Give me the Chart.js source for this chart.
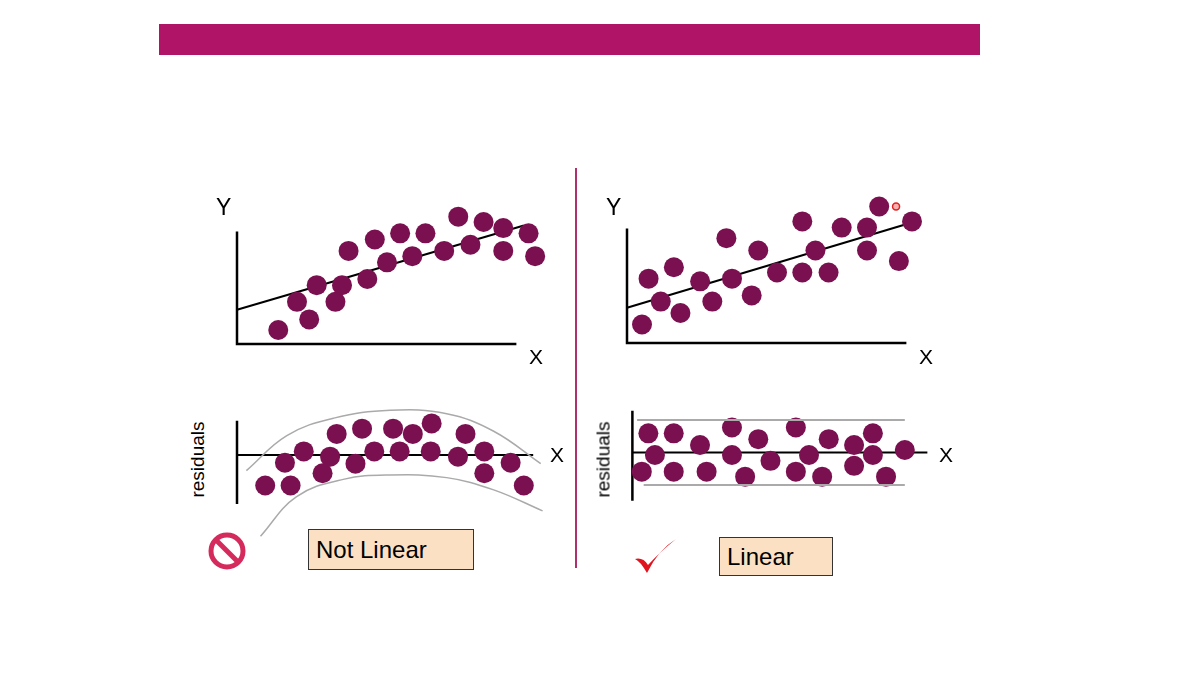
<!DOCTYPE html>
<html><head><meta charset="utf-8">
<script src="https://cdn.jsdelivr.net/npm/chart.js@4"></script>
<style>
body{margin:0;width:1200px;height:675px;background:#fff;position:relative;overflow:hidden;font-family:"Liberation Sans",Arial,sans-serif}
canvas{position:absolute}
.t{position:absolute;color:#000;line-height:1}
.box{position:absolute;background:#fbe0c4;border:1.5px solid #333;font-size:24px;box-sizing:border-box;padding-left:7px;display:flex;align-items:center}
</style></head><body>
<div style="position:absolute;left:159px;top:24px;width:821px;height:31px;background:#b01466"></div>
<div style="position:absolute;left:575px;top:168px;width:2px;height:400px;background:#b0306e"></div>
<canvas id="tl" width="320" height="164" style="left:227px;top:190px"></canvas>
<canvas id="tr" width="320" height="168" style="left:617px;top:185px"></canvas>
<canvas id="bl" width="335" height="160" style="left:227px;top:395px"></canvas>
<canvas id="br" width="330" height="120" style="left:613px;top:395px"></canvas>
<div class="t" style="left:216px;top:196px;font-size:23px">Y</div>
<div class="t" style="left:529px;top:346px;font-size:21px">X</div>
<div class="t" style="left:606px;top:196px;font-size:23px">Y</div>
<div class="t" style="left:919px;top:346px;font-size:21px">X</div>
<div class="t" style="left:550px;top:444px;font-size:21px">X</div>
<div class="t" style="left:939px;top:444px;font-size:21px">X</div>
<div class="t" style="left:157px;top:450px;width:80px;text-align:center;font-size:19px;transform:rotate(-90deg)">residuals</div>
<div class="t" style="left:563px;top:450px;width:80px;text-align:center;font-size:19px;transform:rotate(-90deg)">residuals</div>
<div class="box" style="left:308px;top:529px;width:166px;height:41px">Not Linear</div>
<div class="box" style="left:719px;top:537px;width:114px;height:39px">Linear</div>
<svg style="position:absolute;left:205px;top:530px" width="46" height="44"><circle cx="22" cy="21" r="16" fill="none" stroke="#d42a5c" stroke-width="5"/><line x1="12" y1="11" x2="32" y2="31" stroke="#d42a5c" stroke-width="5"/></svg>
<svg style="position:absolute;left:630px;top:535px" width="50" height="45"><path d="M5 24 Q10 26 17 38 Q28 15 46 4 Q30 17 18 30 Q13 22 5 24 Z" fill="#e0141e"/></svg>
<script>
// Top-left (not linear) scatter
const tlX=[4.4,7.7,6.4,8.5,10.5,11.2,13.9,11.9,14.7,17.4,20.1,16.0,18.7,22.1,24.9,23.6,26.3,28.4,31.1,28.4,31.8];
const tlY=[1.6,2.8,4.8,6.7,4.8,6.7,7.4,10.6,11.9,12.6,12.6,9.3,10.0,10.6,11.3,14.5,13.9,13.2,12.6,10.6,10.0];
const tlFit=[[0,3.9],[30.6,13.5]];
// Top-right (linear) scatter
const trX=[1.6,3.6,5.7,2.3,5.0,7.8,9.1,11.2,10.6,13.3,14.0,16.0,18.7,21.5,18.7,20.1,22.9,25.6,25.6,26.9,30.4,29.0];
const trY=[2.1,4.7,3.4,7.3,8.6,7.0,4.7,7.3,11.9,5.4,10.5,8.0,8.0,8.0,13.8,10.5,13.1,13.1,10.5,15.5,13.8,9.3];
const trFit=[[0,4.0],[29.5,13.4]];
// Bottom-left residuals
const blX=[3.0,5.7,5.1,7.1,9.1,9.9,10.6,12.6,13.3,14.6,16.6,17.3,18.7,20.7,20.6,23.5,24.3,26.3,26.3,29.1,30.5];
const blY=[-3.5,-3.5,-0.9,0.4,-2.1,-0.2,2.4,-1.0,3.0,0.4,3.0,0.4,2.4,3.6,0.4,-0.2,2.4,0.4,-2.1,-0.9,-3.5];
const blUpper=[[1.0,-1.8],[5.3,2.2],[10.3,4.2],[16.3,5.1],[22.3,4.7],[27.3,2.7],[32.3,-1.0]];
const blLower=[[2.5,-9.3],[6.3,-4.8],[11.3,-2.8],[16.3,-2.3],[22.3,-2.6],[27.3,-4.0],[32.5,-6.4]];
// Bottom-right residuals
const brX=[1.7,4.4,2.4,1.0,4.4,7.2,7.9,10.6,10.6,12.0,13.4,14.7,17.4,17.4,18.8,20.2,20.9,23.6,23.6,25.6,25.6,27.0,29.0];
const brY=[2.3,2.3,-0.3,-2.3,-2.3,0.9,-2.3,3.0,-0.3,-2.9,1.6,-1.0,3.0,-2.3,-0.3,-2.9,1.6,0.9,-1.6,2.3,-0.3,-2.9,0.3];
const brUpper=[[0.5,3.9],[29,3.9]];
const brLower=[[1.2,-3.9],[29,-3.9]];

const DOT='#7b1050';
const pts=(xs,ys)=>xs.map((x,i)=>({x,y:ys[i]}));
const pr=a=>a.map(p=>({x:p[0],y:p[1]}));
function line(data,color,w,tension){return {type:'line',data:pr(data),borderColor:color,borderWidth:w,pointRadius:0,tension:tension||0,fill:false,clip:false};}
function dots(xs,ys){return {type:'scatter',data:pts(xs,ys),backgroundColor:DOT,borderWidth:0,pointRadius:10,clip:false};}
function make(id,xmin,xmax,ymin,ymax,ds){
  new Chart(document.getElementById(id),{type:'scatter',data:{datasets:ds},
    options:{responsive:false,animation:false,layout:{padding:0},
      plugins:{legend:{display:false},tooltip:{enabled:false}},
      scales:{x:{type:'linear',display:false,min:xmin,max:xmax},y:{type:'linear',display:false,min:ymin,max:ymax}}}});
}
make('tl',0,32,0,16.4,[dots(tlX,tlY),line(tlFit,'#000',2),line([[0,12.8],[0,0],[29.8,0]],'#000',2.5)]);
make('tr',0,32,0,16.8,[dots(trX,trY),line(trFit,'#000',2),line([[0,13.0],[0,0],[29.8,0]],'#000',2.5),
  {type:'scatter',data:[{x:28.7,y:15.5}],backgroundColor:'#f6b0b0',borderColor:'#e02020',borderWidth:1.5,pointRadius:3.5,clip:false}]);
make('bl',0,33.5,-10.3,5.7,[line(blUpper,'#aaa',1.5,0.4),line(blLower,'#aaa',1.5,0.4),dots(blX,blY),line([[0,0],[31.5,0]],'#000',2),line([[0,3.9],[0,-5.6]],'#000',2.5)]);
make('br',-1,32,-6.3,5.7,[line(brUpper,'#aaa',2),line(brLower,'#aaa',2),dots(brX,brY),line([[0,0],[31.4,0]],'#000',2),line([[0,5.0],[0,-5.8]],'#000',2.5)]);
</script></body></html>
